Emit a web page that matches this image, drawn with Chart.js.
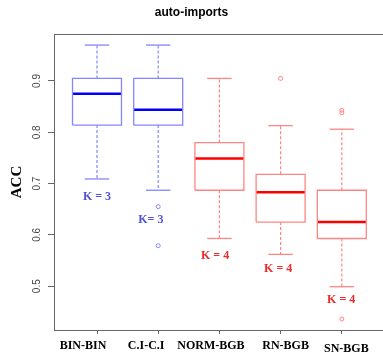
<!DOCTYPE html>
<html lang="en">

<head>
    <meta charset="UTF-8" />
    <script src="https://cdn.jsdelivr.net/npm/chart.js@4.4.1/dist/chart.umd.min.js"></script>
    <title>auto-imports</title>
    <style>
        body { margin: 0; background: #fff; }
    </style>
</head>

<body>
    <canvas id="chart" width="383" height="356"></canvas>
    <script>
        // values
        const categories = ['BIN-BIN', 'C.I-C.I', 'NORM-BGB', 'RN-BGB', 'SN-BGB']
        const whiskerLow = [0.709, 0.687, 0.593, 0.562, 0.499]
        const q1 = [0.814, 0.814, 0.687, 0.625, 0.593]
        const median = [0.875, 0.844, 0.749, 0.683, 0.625]
        const q3 = [0.905, 0.905, 0.780, 0.718, 0.687]
        const whiskerHigh = [0.970, 0.970, 0.905, 0.813, 0.806]
        const outliers = [[], [0.655, 0.579], [], [0.905], [0.843, 0.838, 0.436]]
        const kLabels = ['K = 3', 'K= 3', 'K = 4', 'K = 4', 'K = 4']
        const kLabelX = [1, 1.88, 2.93, 3.96, 4.99]
        const kLabelY = [0.675, 0.629, 0.559, 0.534, 0.474]
        const yTicks = [0.5, 0.6, 0.7, 0.8, 0.9]

        // styles
        const group = [0, 0, 1, 1, 1]
        const lightCol = ['#8585ff', '#ff8585']
        const darkCol = ['#0000ff', '#ff0000']
        const textCol = ['#5252d8', '#e82c2c']
        const boxHalf = 0.4
        const capHalf = 0.2
        const xLabelShift = [-14, -12, -8.5, 5, 4.5]
        const xLabelDrop = [0, 0, 0, 0, 2.5]

        function seg(points, color, width, dash) {
            return {
                type: 'line',
                data: points,
                borderColor: color,
                borderWidth: width,
                borderDash: dash || [],
                pointRadius: 0,
                fill: false,
                tension: 0
            }
        }

        let datasets = []
        for (let i = 0; i < categories.length; i++) {
            let x = i + 1
            let lc = lightCol[group[i]]
            datasets.push(seg([
                { x: x - boxHalf, y: q1[i] }, { x: x + boxHalf, y: q1[i] },
                { x: x + boxHalf, y: q3[i] }, { x: x - boxHalf, y: q3[i] },
                { x: x - boxHalf, y: q1[i] }], lc, 1.3))
            datasets.push(seg([{ x: x, y: q3[i] }, { x: x, y: whiskerHigh[i] }], lc, 1.2, [3, 2]))
            datasets.push(seg([{ x: x, y: q1[i] }, { x: x, y: whiskerLow[i] }], lc, 1.2, [3, 2]))
            datasets.push(seg([{ x: x - capHalf, y: whiskerHigh[i] }, { x: x + capHalf, y: whiskerHigh[i] }], lc, 1.3))
            datasets.push(seg([{ x: x - capHalf, y: whiskerLow[i] }, { x: x + capHalf, y: whiskerLow[i] }], lc, 1.3))
            datasets.push(seg([{ x: x - boxHalf, y: median[i] }, { x: x + boxHalf, y: median[i] }], darkCol[group[i]], 2.4))
            datasets.push({
                type: 'scatter',
                data: outliers[i].map(v => ({ x: x, y: v })),
                pointStyle: 'circle',
                pointRadius: 2,
                borderWidth: 1,
                borderColor: lc,
                backgroundColor: 'rgba(0,0,0,0)'
            })
        }

        const extras = {
            id: 'extras',
            afterDraw(chart) {
                const ctx = chart.ctx
                const area = chart.chartArea
                const xs = chart.scales.x
                const ys = chart.scales.y
                ctx.save()
                ctx.strokeStyle = '#666'
                ctx.lineWidth = 1
                ctx.beginPath()
                ctx.moveTo(area.left, area.top + 0.5)
                ctx.lineTo(area.right, area.top + 0.5)
                ctx.stroke()

                ctx.fillStyle = '#000'
                ctx.font = 'bold 12px "Liberation Serif"'
                ctx.textAlign = 'center'
                ctx.textBaseline = 'middle'
                for (let i = 0; i < categories.length; i++) {
                    let px = xs.getPixelForValue(i + 1) + xLabelShift[i]
                    ctx.fillText(categories[i], px, area.bottom + 16 + xLabelDrop[i])
                }

                for (let i = 0; i < kLabels.length; i++) {
                    ctx.fillStyle = textCol[group[i]]
                    ctx.fillText(kLabels[i], xs.getPixelForValue(kLabelX[i]), ys.getPixelForValue(kLabelY[i]))
                }
                ctx.restore()
            }
        }

        new Chart(document.getElementById('chart'), {
            type: 'line',
            data: { datasets: datasets },
            options: {
                responsive: false,
                animation: false,
                layout: { padding: 0, autoPadding: false },
                plugins: {
                    legend: { display: false },
                    tooltip: { enabled: false },
                    title: {
                        display: true,
                        text: 'auto-imports',
                        color: '#000',
                        font: { family: 'Liberation Sans', size: 12, weight: 'bold' },
                        padding: { top: 5, bottom: 14.6 }
                    }
                },
                scales: {
                    x: {
                        type: 'linear',
                        position: 'bottom',
                        min: 0.2974,
                        max: 5.673,
                        afterBuildTicks: s => { s.ticks = categories.map((c, i) => ({ value: i + 1 })) },
                        afterFit: s => { s.height = 26 },
                        ticks: { display: false },
                        grid: { drawOnChartArea: false, drawTicks: true, tickLength: 4, color: '#666' },
                        border: { display: true, color: '#666' }
                    },
                    y: {
                        type: 'linear',
                        min: 0.4146,
                        max: 0.9916,
                        afterBuildTicks: s => { s.ticks = yTicks.map(v => ({ value: v })) },
                        afterFit: s => { s.width = 54 },
                        ticks: {
                            minRotation: 90,
                            maxRotation: 90,
                            crossAlign: 'center',
                            padding: 4,
                            color: '#444',
                            font: { family: 'Liberation Sans', size: 10 },
                            callback: v => v.toFixed(1)
                        },
                        grid: { drawOnChartArea: false, drawTicks: true, tickLength: 6, color: '#666' },
                        border: { display: true, color: '#666' },
                        title: {
                            display: true,
                            text: 'ACC',
                            color: '#000',
                            font: { family: 'Liberation Serif', size: 15, weight: 'bold' },
                            padding: { top: 8, bottom: 0 }
                        }
                    }
                }
            },
            plugins: [extras]
        })
    </script>
</body>

</html>
